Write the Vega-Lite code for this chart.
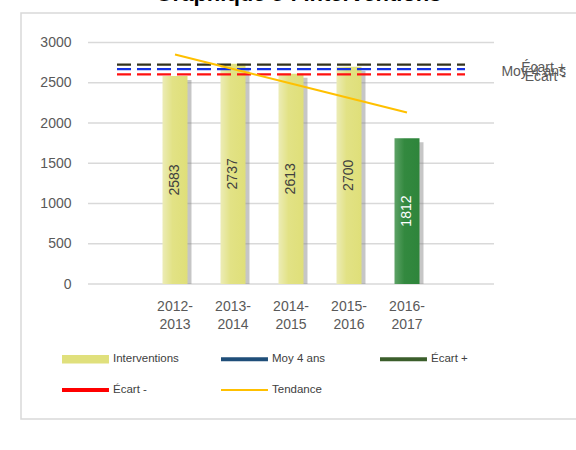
{
  "$schema": "https://vega.github.io/schema/vega-lite/v6.json",
  "width": 555,
  "height": 406,
  "autosize": {"type": "none"},
  "padding": {"left": 21, "top": 13, "right": 0, "bottom": 31},
  "background": "white",
  "title": {
    "text": "Graphique 5 : Interventions",
    "font": "Liberation Sans",
    "fontSize": 22,
    "fontWeight": "bold",
    "color": "#000000",
    "baseline": "alphabetic",
    "offset": 5,
    "dy": 15
  },
  "config": {
    "view": {"stroke": "#D9D9D9", "strokeWidth": 1.5, "strokeDash": [555, 406, 961, 20]},
    "axis": {"labelFont": "Liberation Sans", "labelFontSize": 14, "labelColor": "#595959", "domain": false, "ticks": false, "grid": false}
  },
  "datasets": {
    "bars": [
      {"cat": "2012-2013", "v": 2583},
      {"cat": "2013-2014", "v": 2737},
      {"cat": "2014-2015", "v": 2613},
      {"cat": "2015-2016", "v": 2700},
      {"cat": "2016-2017", "v": 1812}
    ],
    "refs": [
      {"series": "Écart +", "v": 2725},
      {"series": "Moy 4 ans", "v": 2670},
      {"series": "Écart -", "v": 2605}
    ],
    "trend": [
      {"cat": "2012-2013", "series": "Tendance", "v": 2850},
      {"cat": "2013-2014", "series": "Tendance", "v": 2670},
      {"cat": "2014-2015", "series": "Tendance", "v": 2490},
      {"cat": "2015-2016", "series": "Tendance", "v": 2310},
      {"cat": "2016-2017", "series": "Tendance", "v": 2130}
    ],
    "grid": [{"g": 0}, {"g": 500}, {"g": 1000}, {"g": 1500}, {"g": 2000}, {"g": 2500}, {"g": 3000}]
  },
  "layer": [
    {
      "data": {"name": "grid"},
      "mark": {"type": "rule", "color": "#D9D9D9", "strokeWidth": 1.3},
      "encoding": {
        "x": {"datum": " ", "type": "nominal", "bandPosition": 0, "title": null,
              "scale": {"type": "band", "domain": [" ", "2012-2013", "2013-2014", "2014-2015", "2015-2016", "2016-2017", "  "], "range": [67, 473], "paddingInner": 0, "paddingOuter": 0},
              "axis": {"offset": -135, "labelPadding": 15, "labelLineHeight": 18, "labelAngle": 0,
                       "labelExpr": "length(datum.value) > 4 ? [slice(datum.value, 0, 5), slice(datum.value, 5)] : ''", "title": null}},
        "x2": {"datum": "  ", "bandPosition": 1},
        "y": {"field": "g", "type": "quantitative", "title": null,
              "scale": {"domain": [-1677, 3366.5], "nice": false, "zero": false},
              "axis": {"values": [0, 500, 1000, 1500, 2000, 2500, 3000], "format": "d", "offset": -67, "labelPadding": 17, "title": null}}
      }
    },
    {
      "data": {"name": "bars"},
      "mark": {"type": "bar", "width": 25, "xOffset": 4, "yOffset": 4, "color": "#808080", "opacity": 0.45},
      "encoding": {
        "x": {"field": "cat", "type": "nominal", "title": null},
        "y": {"field": "v", "type": "quantitative", "title": null},
        "y2": {"datum": 0}
      }
    },
    {
      "data": {"name": "bars"},
      "transform": [{"filter": "datum.cat !== '2016-2017'"}],
      "mark": {"type": "bar", "width": 25,
               "color": {"gradient": "linear", "x1": 0, "x2": 1, "y1": 0, "y2": 0,
                         "stops": [{"offset": 0, "color": "#ECECB6"}, {"offset": 0.4, "color": "#E2E285"}, {"offset": 1, "color": "#DFDF79"}]}},
      "encoding": {
        "x": {"field": "cat", "type": "nominal", "title": null},
        "y": {"field": "v", "type": "quantitative", "title": null},
        "y2": {"datum": 0}
      }
    },
    {
      "data": {"name": "bars"},
      "transform": [{"filter": "datum.cat === '2016-2017'"}],
      "mark": {"type": "bar", "width": 25,
               "color": {"gradient": "linear", "x1": 0, "x2": 1, "y1": 0, "y2": 0,
                         "stops": [{"offset": 0, "color": "#5DA266"}, {"offset": 0.4, "color": "#33893F"}, {"offset": 1, "color": "#2E853B"}]}},
      "encoding": {
        "x": {"field": "cat", "type": "nominal", "title": null},
        "y": {"field": "v", "type": "quantitative", "title": null},
        "y2": {"datum": 0}
      }
    },
    {
      "data": {"name": "bars"},
      "transform": [{"calculate": "datum.v / 2", "as": "mid"}],
      "mark": {"type": "text", "angle": 270, "font": "Liberation Sans", "fontSize": 14, "baseline": "middle", "align": "center"},
      "encoding": {
        "x": {"field": "cat", "type": "nominal", "title": null},
        "y": {"field": "mid", "type": "quantitative", "title": null},
        "text": {"field": "v", "type": "quantitative"},
        "color": {"condition": {"test": "datum.cat === '2016-2017'", "value": "#FFFFFF"}, "value": "#404040"}
      }
    },
    {
      "data": {"name": "refs"},
      "mark": {"type": "rule", "strokeWidth": 2.2, "strokeDash": [14, 6]},
      "encoding": {
        "x": {"datum": " ", "type": "nominal", "title": null},
        "x2": {"datum": "  "},
        "y": {"field": "v", "type": "quantitative", "title": null},
        "stroke": {"field": "series", "type": "nominal", "legend": null,
                   "scale": {"domain": ["Moy 4 ans", "Écart +", "Écart -"], "range": ["#1530E0", "#33331E", "#FF1010"]}}
      }
    },
    {
      "data": {"name": "refs"},
      "mark": {"type": "text", "align": "right", "baseline": "middle", "dx": 101, "dy": 3, "font": "Liberation Sans", "fontSize": 14, "color": "#595959"},
      "encoding": {
        "x": {"datum": "  ", "type": "nominal", "title": null},
        "y": {"field": "v", "type": "quantitative", "title": null},
        "text": {"field": "series", "type": "nominal"}
      }
    },
    {
      "data": {"name": "trend"},
      "mark": {"type": "line", "strokeWidth": 2},
      "encoding": {
        "x": {"field": "cat", "type": "nominal", "title": null},
        "y": {"field": "v", "type": "quantitative", "title": null},
        "color": {
          "field": "series", "type": "nominal",
          "scale": {"domain": ["Interventions", "Moy 4 ans", "Écart +", "Écart -", "Tendance"],
                    "range": ["#E0E07C", "#1F4E79", "#3B5E2B", "#FF0000", "#FFC000"]},
          "legend": {
            "title": null, "orient": "none", "legendX": 41, "legendY": 340,
            "direction": "horizontal", "columns": 3, "gridAlign": "all",
            "columnPadding": 42, "rowPadding": 19, "padding": 0,
            "symbolSize": 144, "symbolType": "M-1,-0.3H6.83V0.3H-1Z", "symbolStrokeWidth": 0,
            "labelOffset": 39, "labelFont": "Liberation Sans", "labelFontSize": 11.5, "labelColor": "#404040", "labelLimit": 200,
            "encode": {"symbols": {"update": {
              "shape": {"signal": "datum.value === 'Interventions' ? 'M-1,-0.72H6.83V0.72H-1Z' : (datum.value === 'Tendance' ? 'M-1,-0.17H6.83V0.17H-1Z' : 'M-1,-0.33H6.83V0.33H-1Z')"},
              "fill": {"scale": "color", "field": "value"},
              "stroke": {"value": "transparent"},
              "strokeWidth": {"value": 0},
              "opacity": {"value": 1}
            }}}
          }
        }
      }
    }
  ]
}
